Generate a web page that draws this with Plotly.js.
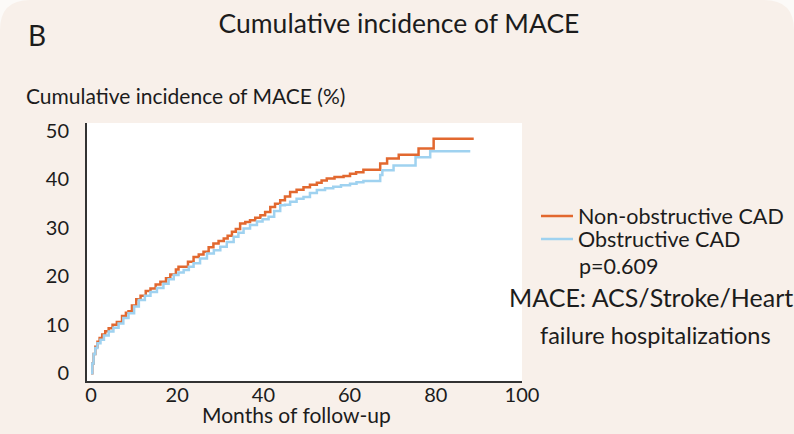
<!DOCTYPE html>
<html>
<head>
<meta charset="utf-8">
<script src="https://cdn.plot.ly/plotly-3.0.1.min.js"></script>
<style>html,body{margin:0;padding:0;background:#fcfaf8;}#chart{width:794px;height:434px;}</style>
</head>
<body>
<div id="chart"></div>
<script>
// Series names
var seriesNames = ['Non-obstructive CAD', 'Obstructive CAD'];

// Non-obstructive CAD: months of follow-up and cumulative incidence (%)
var monthsNonObs = [0,0.3,0.6,1.0,1.5,2.0,2.6,3.3,4.1,5.0,6.0,7.2,8.1,8.7,9.5,10.5,11.5,12.7,13.8,15.0,16.1,17.4,18.4,19.7,20.3,22.5,23.8,25.0,26.1,27.3,28.4,29.6,30.8,31.7,32.7,33.6,34.6,35.8,36.9,38.1,39.3,40.4,41.6,42.7,43.9,45.0,46.2,47.7,49.3,50.8,52.4,53.5,54.7,56.5,58.6,60.1,61.5,63.2,67.1,68.7,71.4,76.0,79.5,88.8];
var incNonObs   = [0,2.0,4.0,5.5,6.5,7.3,8.0,8.7,9.3,10.0,10.6,11.8,12.5,12.8,14.0,15.3,16.0,17.0,17.5,18.3,18.9,19.6,20.4,21.4,22.0,23.0,24.0,24.5,25.1,26.0,26.8,27.3,27.8,28.4,29.2,29.8,30.9,31.2,31.6,32.1,32.6,33.3,34.3,35.0,35.7,36.5,37.4,37.9,38.4,38.9,39.3,39.8,40.2,40.5,40.7,41.2,41.5,42.0,43.3,44.3,45.1,46.4,48.4,48.4];

// Obstructive CAD: months of follow-up and cumulative incidence (%)
var monthsObs = [0,0.3,0.6,1.0,1.5,2.2,3.0,4.1,5.2,6.4,7.5,8.7,10.0,11.1,12.5,13.8,15.3,16.8,18.0,19.2,20.3,21.5,22.7,23.8,25.3,26.9,28.5,30.0,31.5,33.1,34.2,35.4,36.9,38.5,39.8,41.2,42.5,43.9,45.0,46.2,47.7,49.3,50.8,52.4,54.3,56.2,58.0,60.1,61.6,63.2,67.1,67.6,70.2,75.3,78.7,88.0];
var incObs    = [0,2.0,4.0,5.2,6.2,6.9,7.8,8.6,9.4,10.3,11.4,12.4,13.8,15.1,16.0,16.8,17.6,18.5,19.4,20.3,20.8,21.3,22.0,22.7,23.7,24.7,25.4,26.1,27.1,28.2,29.0,29.9,30.6,31.3,31.8,32.3,33.5,34.7,34.8,35.4,36.0,36.4,37.2,37.8,38.2,38.5,38.8,39.1,39.4,39.7,40.9,41.9,42.9,44.6,45.8,45.8];

// Axis ticks
var xTicks = [0,20,40,60,80,100];
var yTicks = [0,10,20,30,40,50];

// Annotation texts
var panelLabel = 'B';
var chartTitle = 'Cumulative incidence of MACE';
var yTitle = 'Cumulative incidence of MACE (%)';
var xTitle = 'Months of follow-up';
var pText = 'p=0.609';
var noteLine1 = 'MACE: ACS/Stroke/Heart';
var noteLine2 = 'failure hospitalizations';

var FONT = 'Lato, "Open Sans", sans-serif';
var INK = '#1c1c1c';

var traces = [
  {x: monthsNonObs, y: incNonObs, name: seriesNames[0], type: 'scatter', mode: 'lines',
   legend: 'legend', line: {color: '#e2682f', width: 2.5, shape: 'hv'}},
  {x: monthsObs, y: incObs, name: seriesNames[1], type: 'scatter', mode: 'lines',
   legend: 'legend2', line: {color: '#9fd2f0', width: 2.5, shape: 'hv'}}
];

function px2x(px){ return (px - 87) / 435; }
function py2y(py){ return (381 - py) / 258; }

var legendBase = {xanchor: 'left', yanchor: 'middle', bgcolor: 'rgba(0,0,0,0)',
  font: {family: FONT, size: 21.5, color: INK}, itemwidth: 32, borderwidth: 0};

var layout = {
  width: 794, height: 434,
  margin: {l: 87, r: 272, t: 123, b: 53, pad: 0, autoexpand: false},
  paper_bgcolor: '#f8f0ea',
  plot_bgcolor: '#ffffff',
  font: {family: FONT, color: INK, size: 20},
  title: {text: chartTitle, font: {family: FONT, size: 26.5, color: INK},
          x: 0.5025, xanchor: 'center', xref: 'container',
          y: 1 - 24/434, yanchor: 'middle', yref: 'container'},
  showlegend: true,
  legend: Object.assign({x: px2x(536), y: py2y(216)}, legendBase),
  legend2: Object.assign({x: px2x(536), y: py2y(239)}, legendBase),
  xaxis: {range: [-0.93, 100], tickvals: xTicks, ticktext: xTicks.map(String),
          showgrid: false, zeroline: false, showline: true, linecolor: '#333',
          linewidth: 2, ticks: '', ticklabelstandoff: -5,
          tickfont: {family: FONT, size: 20, color: INK}, fixedrange: true},
  yaxis: {range: [-1.59, 51.65], tickvals: yTicks, ticktext: yTicks.map(String),
          showgrid: false, zeroline: false, showline: true, linecolor: '#333',
          linewidth: 2, ticks: '', ticklabelstandoff: 12,
          tickfont: {family: FONT, size: 20, color: INK}, fixedrange: true},
  annotations: [
    {text: panelLabel, xref: 'paper', yref: 'paper', x: px2x(26), y: py2y(35),
     xanchor: 'left', yanchor: 'middle', showarrow: false, font: {family: FONT, size: 28, color: INK}},
    {text: yTitle, xref: 'paper', yref: 'paper', x: px2x(24), y: py2y(95),
     xanchor: 'left', yanchor: 'middle', showarrow: false, font: {family: FONT, size: 21, color: INK}},
    {text: xTitle, xref: 'paper', yref: 'paper', x: px2x(296), y: py2y(414),
     xanchor: 'center', yanchor: 'middle', showarrow: false, font: {family: FONT, size: 21, color: INK}},
    {text: pText, xref: 'paper', yref: 'paper', x: px2x(577), y: py2y(266),
     xanchor: 'left', yanchor: 'middle', showarrow: false, font: {family: FONT, size: 21.5, color: INK}},
    {text: noteLine1, xref: 'paper', yref: 'paper', x: px2x(651), y: py2y(297),
     xanchor: 'center', yanchor: 'middle', showarrow: false, font: {family: FONT, size: 25, color: INK}},
    {text: noteLine2, xref: 'paper', yref: 'paper', x: px2x(655), y: py2y(335),
     xanchor: 'center', yanchor: 'middle', showarrow: false, font: {family: FONT, size: 23.5, color: INK}}
  ],
  shapes: [
    {type: 'path', xref: 'paper', yref: 'paper', layer: 'below', line: {width: 0}, fillcolor: '#fcfaf8',
     path: 'M ' + px2x(0) + ',' + py2y(0) + ' L ' + px2x(30) + ',' + py2y(0) + ' Q ' + px2x(0) + ',' + py2y(0) + ' ' + px2x(0) + ',' + py2y(30) + ' Z'},
    {type: 'path', xref: 'paper', yref: 'paper', layer: 'below', line: {width: 0}, fillcolor: '#fcfaf8',
     path: 'M ' + px2x(794) + ',' + py2y(0) + ' L ' + px2x(764) + ',' + py2y(0) + ' Q ' + px2x(794) + ',' + py2y(0) + ' ' + px2x(794) + ',' + py2y(30) + ' Z'}
  ]
};

Plotly.newPlot('chart', traces, layout, {displayModeBar: false, staticPlot: true});
</script>
</body>
</html>
